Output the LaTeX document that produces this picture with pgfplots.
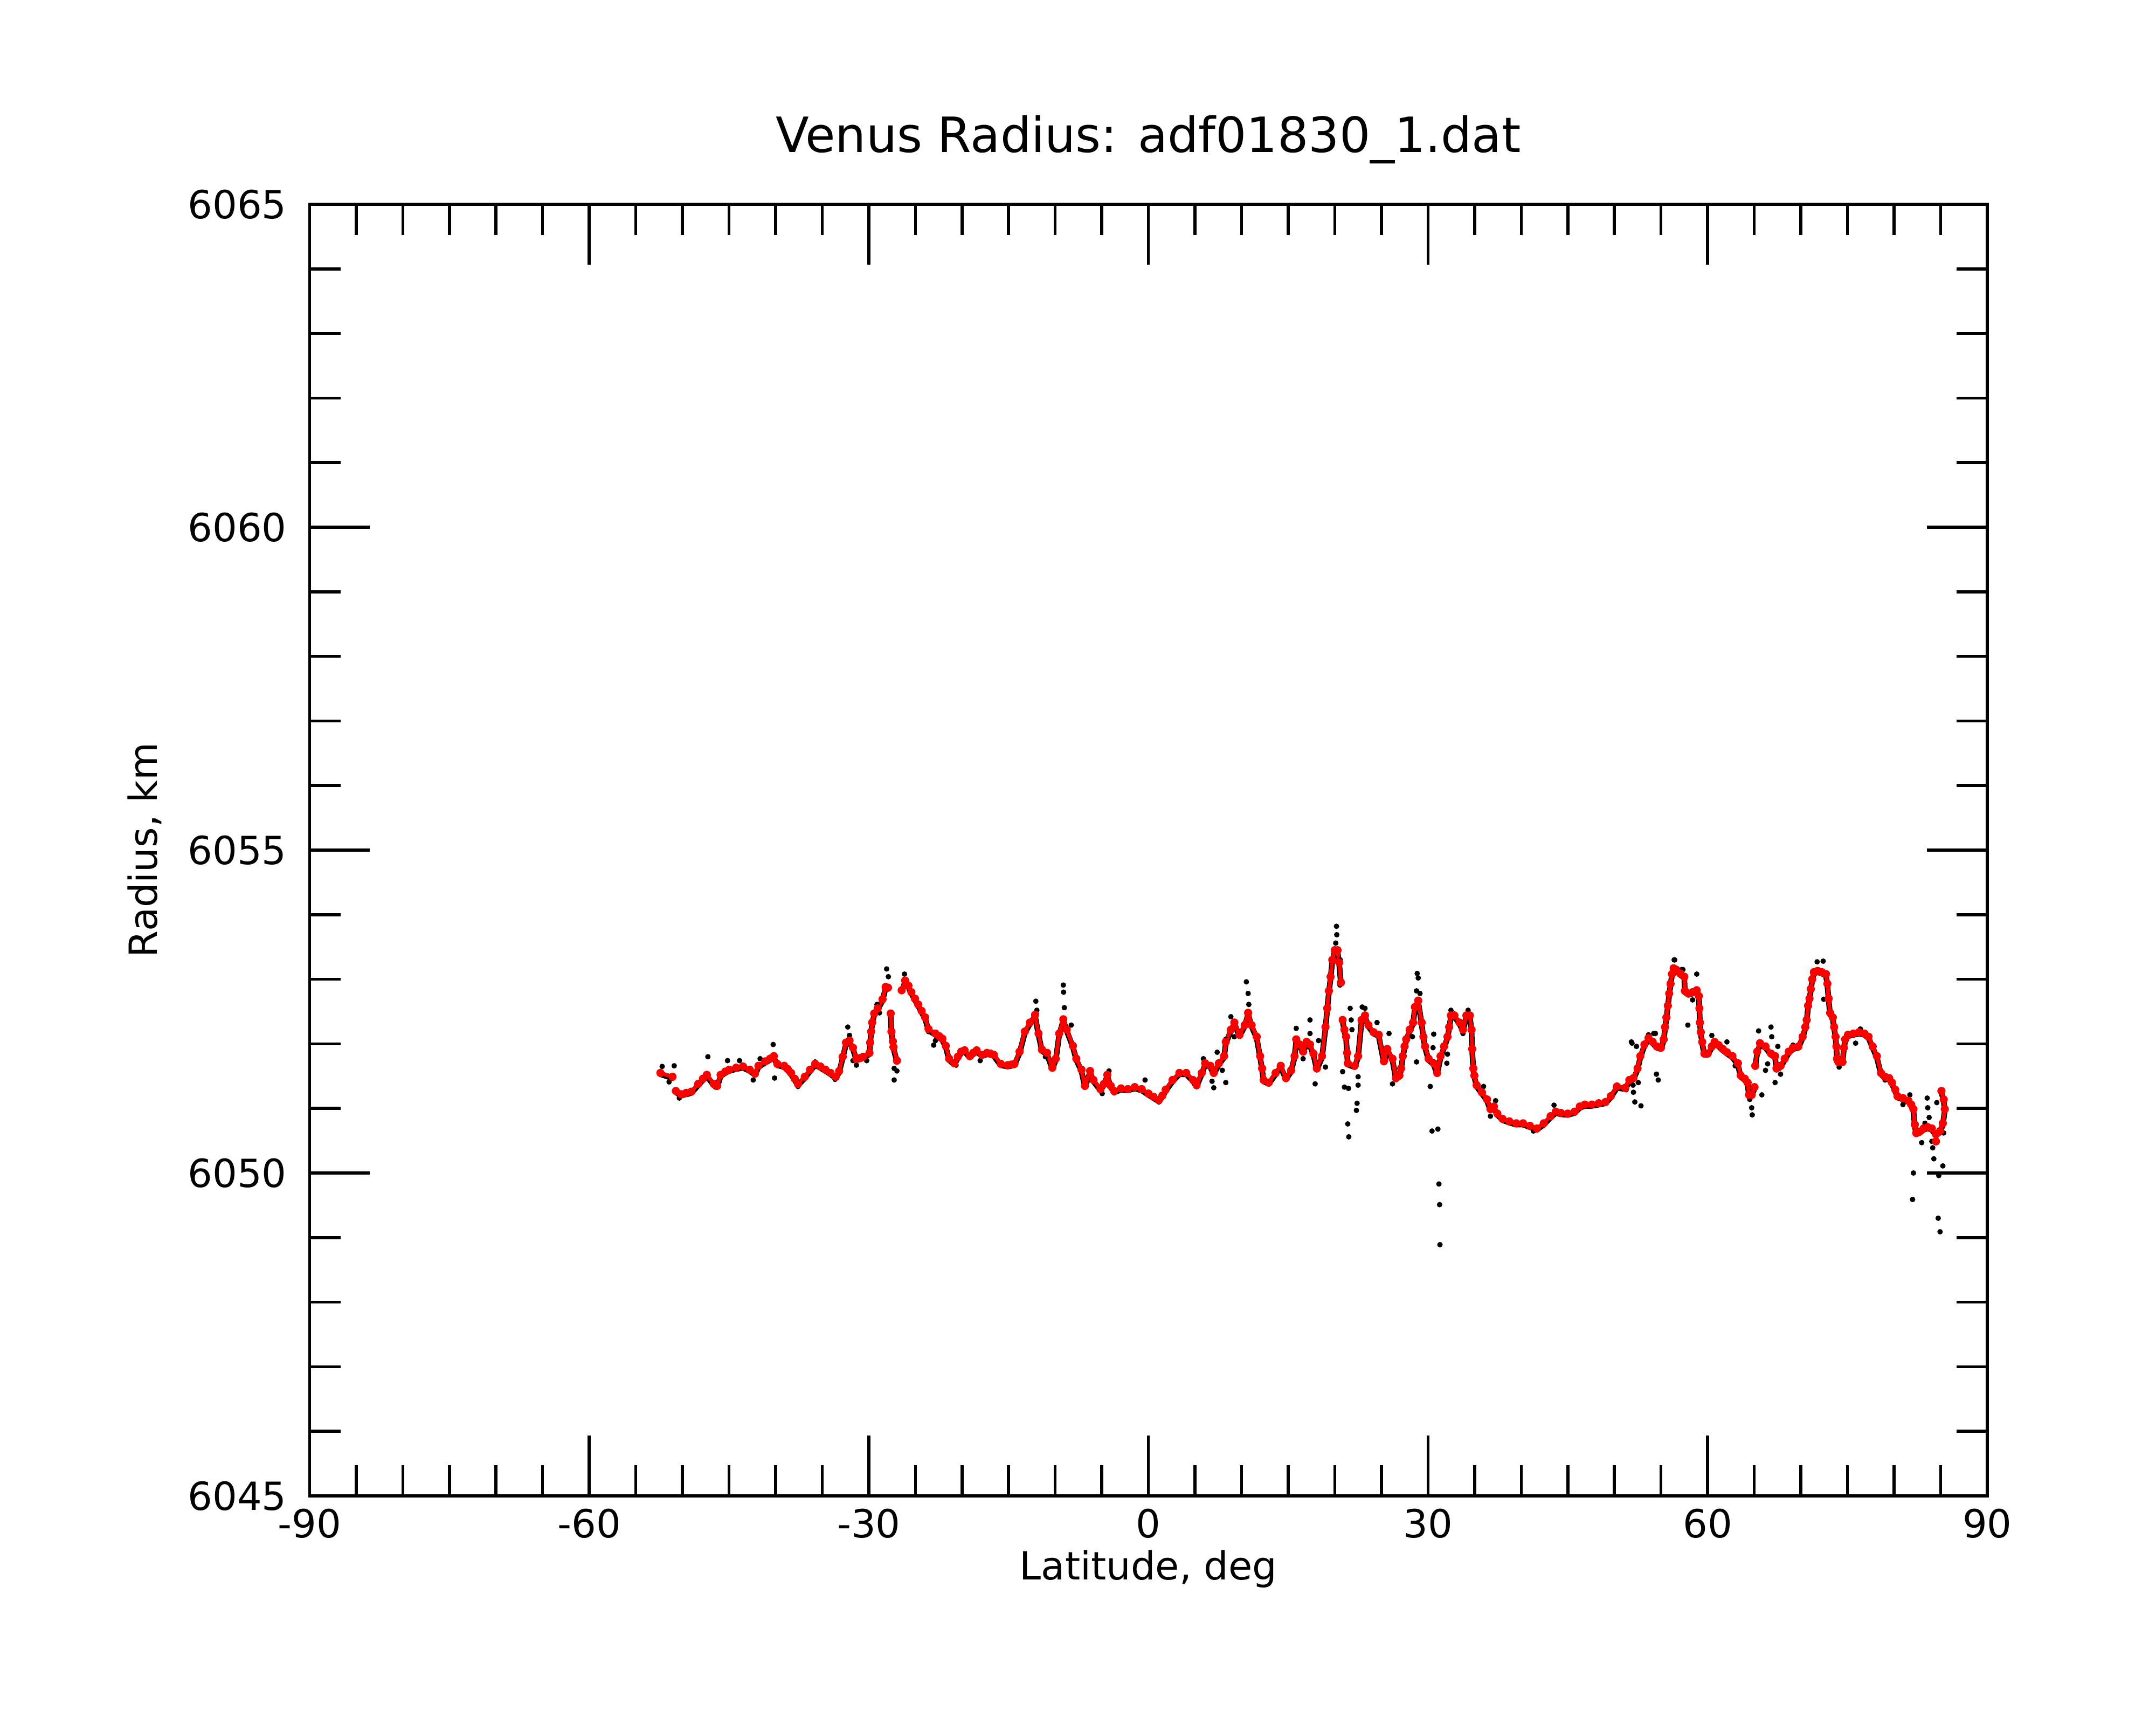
\documentclass[border=0pt]{standalone}
\usepackage{pgfplots}
\pgfplotsset{compat=1.18}
\usepackage{pgfplotstable}
\usepackage{fontspec}
\setmainfont{DejaVu Sans}

\pgfplotstableread{
lat r
-52.36 6051.55
-51.06 6051.49
nan nan
-50.70 6051.27
-50.14 6051.22
-49.60 6051.24
-49.04 6051.26
-48.30 6051.38
-47.80 6051.46
-47.38 6051.52
-46.64 6051.38
-46.27 6051.35
-45.90 6051.52
-45.40 6051.57
-44.98 6051.60
-44.24 6051.63
-43.50 6051.65
-42.77 6051.60
-42.21 6051.54
-41.84 6051.66
-41.11 6051.73
-40.60 6051.77
-40.19 6051.81
-39.82 6051.69
-39.08 6051.66
-38.70 6051.61
-38.34 6051.55
-37.95 6051.46
-37.60 6051.38
-36.87 6051.49
-36.30 6051.60
-35.76 6051.69
-35.20 6051.65
-34.65 6051.60
-34.10 6051.55
-33.55 6051.49
-33.18 6051.58
-32.80 6051.80
-32.44 6052.02
-32.07 6052.05
-31.70 6051.94
-31.33 6051.77
-30.95 6051.78
-30.60 6051.80
-29.93 6051.86
-29.86 6052.02
-29.75 6052.19
-29.64 6052.33
-29.42 6052.47
-29.05 6052.55
-28.53 6052.69
-28.20 6052.88
-27.94 6052.87
nan nan
-27.65 6052.47
-27.57 6052.19
-27.42 6052.04
-27.35 6051.95
-26.98 6051.74
nan nan
-26.47 6052.83
-26.10 6052.98
-25.75 6052.90
-25.43 6052.80
-25.05 6052.70
-24.70 6052.61
-24.33 6052.51
-23.96 6052.41
-23.59 6052.23
-22.85 6052.16
-22.45 6052.12
-22.11 6052.08
-21.74 6051.97
-21.38 6051.77
-20.82 6051.70
-20.45 6051.80
-20.08 6051.88
-19.72 6051.90
-19.16 6051.81
-18.80 6051.86
-18.43 6051.90
-17.87 6051.83
-17.32 6051.86
-16.95 6051.85
-16.58 6051.83
-15.84 6051.69
-15.11 6051.67
-14.70 6051.68
-14.37 6051.69
-13.82 6051.88
-13.26 6052.19
-12.71 6052.33
-12.16 6052.45
-11.79 6052.16
-11.42 6051.91
-10.87 6051.86
-10.31 6051.63
-9.94 6051.77
-9.57 6052.16
-9.13 6052.38
-8.76 6052.22
-8.10 6051.97
-7.73 6051.77
-7.18 6051.60
-6.81 6051.35
-6.26 6051.58
-5.89 6051.44
-5.15 6051.30
-4.78 6051.38
-4.41 6051.52
-4.04 6051.35
-3.67 6051.27
-2.94 6051.31
-2.20 6051.30
-1.46 6051.33
-0.72 6051.30
0.01 6051.23
0.55 6051.18
1.12 6051.13
1.50 6051.20
1.85 6051.29
2.59 6051.44
3.32 6051.55
4.06 6051.55
4.80 6051.44
5.17 6051.36
5.72 6051.55
6.09 6051.70
6.64 6051.66
7.01 6051.55
7.56 6051.70
8.12 6051.81
8.30 6052.03
8.85 6052.22
9.22 6052.33
9.78 6052.14
10.33 6052.29
10.70 6052.48
11.07 6052.29
11.62 6052.11
11.99 6051.81
12.20 6051.62
12.36 6051.44
12.91 6051.40
13.65 6051.55
14.20 6051.66
14.76 6051.47
15.31 6051.59
15.68 6051.81
15.86 6052.07
16.23 6051.99
16.60 6051.88
16.97 6052.03
17.34 6051.99
17.71 6051.85
18.07 6051.62
18.63 6051.81
19.00 6052.26
19.18 6052.55
19.37 6052.82
19.55 6053.04
19.73 6053.30
19.99 6053.45
20.29 6053.45
20.47 6053.26
20.66 6052.95
nan nan
20.84 6052.37
21.03 6052.22
21.21 6052.11
21.32 6051.86
21.39 6051.70
22.13 6051.66
22.50 6051.81
22.87 6052.37
23.24 6052.44
23.61 6052.29
24.16 6052.18
24.71 6052.14
25.27 6051.73
25.63 6051.92
26.19 6051.77
26.56 6051.47
26.93 6051.51
27.11 6051.62
27.29 6051.81
27.48 6051.96
27.66 6052.07
28.03 6052.22
28.40 6052.33
28.59 6052.57
28.95 6052.67
29.32 6052.33
29.51 6052.11
29.69 6051.96
30.06 6051.77
30.61 6051.70
30.98 6051.55
31.35 6051.81
31.72 6051.96
32.09 6052.11
32.27 6052.26
32.46 6052.44
32.83 6052.44
33.38 6052.33
33.75 6052.22
34.12 6052.44
34.49 6052.44
34.67 6052.22
34.74 6051.92
34.86 6051.62
34.97 6051.51
35.22 6051.36
35.78 6051.25
36.33 6051.14
36.70 6050.99
37.07 6051.03
37.44 6050.92
37.99 6050.84
38.73 6050.80
39.47 6050.77
40.20 6050.77
40.94 6050.73
41.68 6050.69
42.42 6050.77
43.15 6050.88
43.71 6050.95
44.26 6050.93
45.00 6050.92
45.73 6050.95
46.29 6051.03
46.84 6051.06
47.58 6051.06
48.32 6051.08
49.05 6051.10
49.61 6051.19
50.27 6051.34
51.16 6051.32
51.60 6051.44
52.04 6051.47
52.48 6051.62
52.78 6051.81
53.22 6051.99
53.66 6052.09
54.11 6052.03
54.55 6051.96
54.99 6051.94
55.29 6052.07
55.43 6052.26
55.58 6052.41
55.73 6052.59
55.88 6052.78
56.02 6052.93
56.17 6053.08
56.35 6053.17
56.61 6053.15
57.06 6053.09
57.50 6053.04
57.56 6052.82
57.94 6052.78
58.39 6052.80
58.83 6052.83
59.06 6052.74
59.12 6052.55
59.18 6052.33
59.27 6052.18
59.42 6052.03
59.65 6051.85
60.01 6051.85
60.45 6051.96
60.75 6052.03
61.19 6051.98
61.63 6051.92
62.07 6051.87
62.66 6051.81
63.25 6051.70
63.55 6051.51
63.99 6051.46
64.29 6051.40
64.44 6051.21
64.73 6051.21
65.03 6051.33
nan nan
65.11 6051.66
65.32 6051.88
65.62 6052.01
66.21 6051.96
66.80 6051.85
67.24 6051.81
67.39 6051.62
67.83 6051.66
68.27 6051.77
68.71 6051.88
69.16 6051.94
69.75 6051.96
70.19 6052.11
70.48 6052.26
70.63 6052.37
70.78 6052.59
70.93 6052.70
71.07 6052.85
71.22 6053.00
71.40 6053.11
71.81 6053.13
72.25 6053.11
72.70 6053.08
72.85 6052.93
72.99 6052.70
73.14 6052.48
73.43 6052.41
73.58 6052.26
73.73 6052.11
73.82 6051.96
73.88 6051.77
74.03 6051.72
74.47 6051.72
74.62 6051.94
74.76 6052.07
75.06 6052.14
75.65 6052.16
76.24 6052.18
76.83 6052.16
77.27 6052.11
77.71 6051.96
78.16 6051.81
78.60 6051.55
79.04 6051.49
79.48 6051.47
79.78 6051.40
80.13 6051.29
80.37 6051.19
80.96 6051.16
81.55 6051.12
81.85 6051.06
82.08 6050.99
82.23 6050.75
82.38 6050.62
82.73 6050.64
83.17 6050.69
83.62 6050.71
84.06 6050.69
84.50 6050.60
84.94 6050.65
85.24 6050.77
85.45 6050.99
85.33 6051.14
85.09 6051.27
nan nan
84.50 6050.49
}\smoothed

\pgfplotstableread{
lat r
-52.17 6051.65
-51.43 6051.41
-50.88 6051.66
-50.33 6051.16
-49.40 6051.22
-47.27 6051.80
-46.45 6051.33
-45.16 6051.74
-43.87 6051.74
-42.40 6051.44
-41.66 6051.77
-40.26 6051.99
-40.11 6051.47
-37.60 6051.34
-35.76 6051.72
-33.62 6051.45
-32.26 6052.26
-32.07 6052.13
-31.70 6051.74
-31.33 6051.67
-30.23 6051.74
-29.12 6052.61
-28.86 6052.48
-28.09 6053.16
-27.90 6053.04
-27.28 6051.62
-26.98 6051.58
-27.28 6051.44
-26.17 6053.08
-24.33 6052.52
-23.59 6052.19
-22.85 6052.05
-23.04 6051.98
-20.64 6051.67
-18.05 6051.74
-14.92 6051.65
-12.08 6052.66
-11.97 6052.52
-11.05 6051.80
-9.13 6052.91
-9.10 6052.80
-9.02 6052.56
-8.28 6052.29
-6.81 6051.34
-4.96 6051.23
-4.23 6051.58
-3.67 6051.24
-0.36 6051.44
1.12 6051.10
5.90 6051.77
6.83 6051.42
7.01 6051.32
7.38 6051.87
7.93 6051.59
8.30 6051.40
8.30 6052.07
8.85 6052.42
9.22 6052.11
10.51 6052.96
10.70 6052.78
10.77 6052.61
12.91 6051.40
15.86 6052.24
16.60 6051.77
17.34 6052.37
17.34 6052.16
17.89 6051.38
18.26 6052.05
19.00 6051.64
20.18 6053.82
20.21 6053.69
20.10 6053.56
20.58 6053.30
20.55 6052.91
20.84 6051.57
21.03 6051.33
21.47 6051.31
21.39 6050.76
21.50 6050.56
21.65 6052.55
21.76 6052.37
21.84 6052.22
22.39 6051.08
22.32 6050.97
22.50 6051.36
22.50 6051.49
22.94 6052.57
23.24 6052.55
24.53 6052.33
25.82 6052.16
26.19 6051.38
28.33 6052.11
28.84 6053.09
28.95 6053.02
28.77 6052.82
29.14 6052.78
28.77 6051.72
30.24 6051.34
30.43 6050.65
31.06 6050.68
31.17 6049.83
31.24 6049.51
31.28 6048.89
30.61 6052.15
30.54 6051.94
32.02 6051.70
32.09 6051.84
32.46 6052.52
34.30 6052.52
33.75 6052.16
35.96 6051.34
37.25 6051.12
36.70 6050.88
41.31 6050.65
43.52 6051.05
51.27 6051.29
51.82 6052.03
52.19 6051.10
52.85 6051.04
52.00 6051.36
52.56 6051.40
52.37 6051.96
51.89 6052.01
52.04 6051.25
53.66 6052.14
54.22 6052.16
54.40 6052.16
54.70 6051.44
54.51 6051.53
56.41 6053.30
56.47 6053.30
57.20 6053.15
57.35 6053.15
57.88 6052.29
58.83 6053.08
58.39 6052.68
60.45 6052.13
62.07 6052.03
62.96 6051.66
64.52 6051.14
64.73 6051.01
64.79 6050.90
65.82 6051.21
65.47 6052.20
66.80 6052.26
66.88 6052.11
66.44 6051.69
66.21 6051.59
67.24 6051.40
67.53 6051.96
67.83 6051.53
69.16 6051.98
71.75 6053.27
72.40 6053.28
72.46 6052.69
74.11 6051.64
75.88 6052.01
76.39 6052.23
79.04 6051.44
80.96 6051.06
81.70 6051.21
82.97 6050.47
83.32 6050.77
83.56 6051.16
83.62 6051.01
83.77 6050.86
84.06 6050.49
84.15 6050.39
84.27 6050.22
84.59 6051.09
84.80 6049.96
84.74 6049.30
84.94 6049.09
85.24 6050.11
82.08 6050.00
81.99 6049.59
85.33 6050.62
}\raw

\begin{document}
\begin{tikzpicture}
\path[use as bounding box] (0,0) rectangle (10in,8in);
\begin{axis}[
  at={(1.436in,1.0625in)}, anchor=south west,
  scale only axis,
  width=7.781in, height=5.99in,
  xmin=-90, xmax=90, ymin=6045, ymax=6065,
  xtick={-90,-60,...,90},
  ytick={6045,6050,...,6065},
  minor x tick num=5,
  minor y tick num=4,
  tick align=inside,
  major tick length=0.28in,
  minor tick length=0.143in,
  every tick/.style={black, line width=1pt},
  axis line style={line width=1pt},
  scaled ticks=false,
  unbounded coords=jump,
  /pgf/number format/assume math mode=true,
  /pgf/number format/set thousands separator={},
  ticklabel style={font=\fontsize{13pt}{15.6pt}\selectfont},
  yticklabel style={anchor=east, inner sep=0pt, xshift=-7.5pt},
  xticklabel style={anchor=north, inner sep=0pt, yshift=-4.1pt},
  xlabel={Latitude, deg},
  ylabel={Radius, km},
  xlabel style={font=\fontsize{13pt}{15.6pt}\selectfont, at={(axis description cs:0.5,-0.0647)}, anchor=base, inner sep=0pt},
  ylabel style={font=\fontsize{13pt}{15.6pt}\selectfont, at={(axis description cs:-0.0909,0.5)}, anchor=base, inner sep=0pt},
  title={Venus Radius: adf01830\_1.dat},
  title style={font=\fontsize{16.3pt}{19.5pt}\selectfont, at={(axis description cs:0.5,1.0266)}, anchor=base, inner sep=0pt},
  clip=false,
]
\addplot[black, line width=1.9pt, line join=round, line cap=round, yshift=-0.45pt, no marks] table[x=lat, y=r] {\smoothed};
\addplot[only marks, mark=*, mark size=0.7pt, mark options={draw=none, fill=black}] table[x=lat, y=r] {\raw};
\addplot[red, line width=1.3pt, line join=round, line cap=round, mark=*, mark size=0.75pt, mark options={draw=none, fill=red}] table[x=lat, y=r] {\smoothed};
\end{axis}
\end{tikzpicture}
\end{document}
